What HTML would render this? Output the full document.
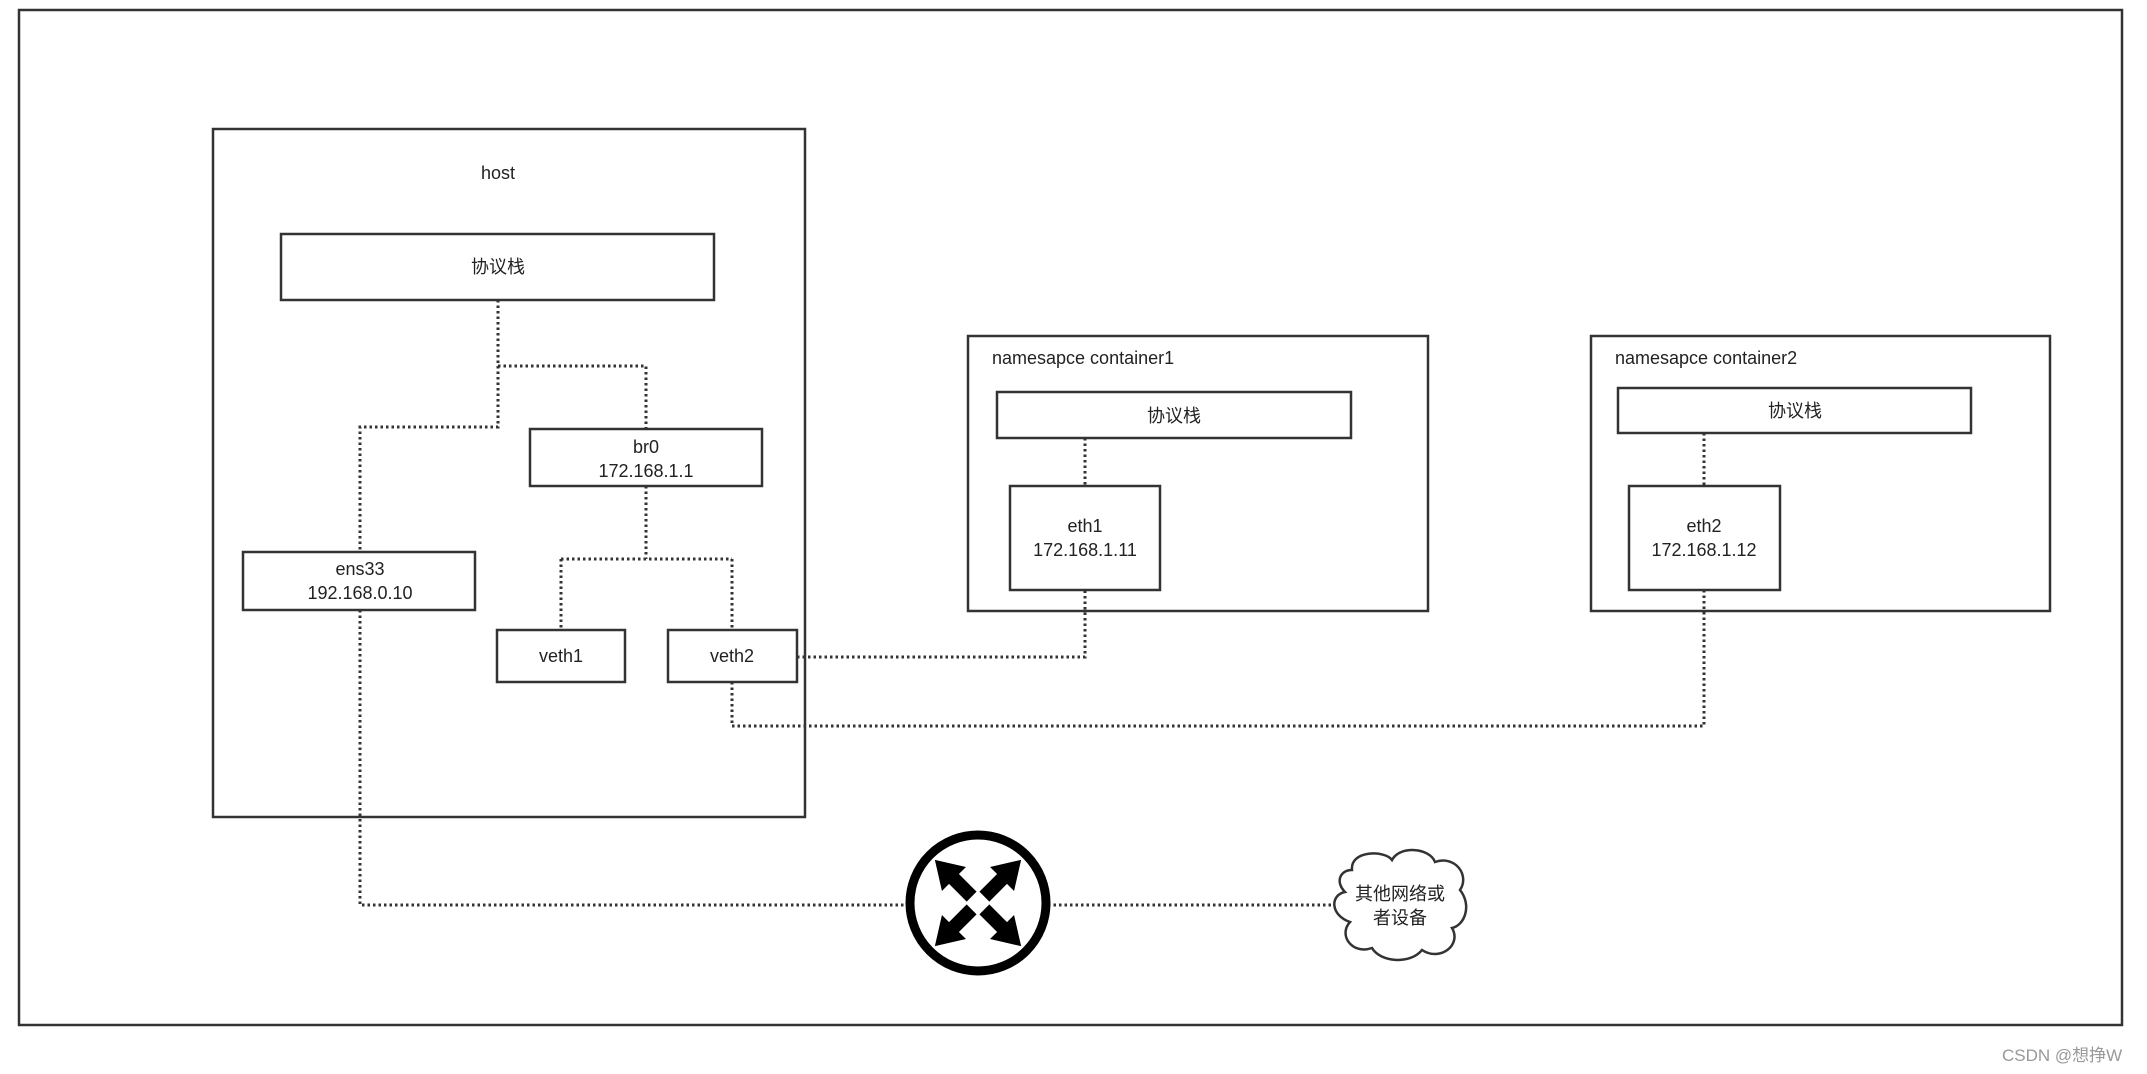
<!DOCTYPE html>
<html><head><meta charset="utf-8"><style>
body{margin:0;background:#fff;}
svg{display:block;}
text{font-family:"Liberation Sans","Noto Sans CJK SC",sans-serif;font-size:18px;fill:#222;}
</style></head><body>
<svg width="2147" height="1074" viewBox="0 0 2147 1074" xmlns="http://www.w3.org/2000/svg">
<g fill="none" stroke="#333" stroke-width="2.5">
<rect x="19" y="10" width="2103" height="1015"/>
<rect x="213" y="129" width="592" height="688"/>
<rect x="281" y="234" width="433" height="66"/>
<rect x="530" y="429" width="232" height="57"/>
<rect x="243" y="552" width="232" height="58"/>
<rect x="497" y="630" width="128" height="52"/>
<rect x="668" y="630" width="129" height="52"/>
<rect x="968" y="336" width="460" height="275"/>
<rect x="997" y="392" width="354" height="46"/>
<rect x="1010" y="486" width="150" height="104"/>
<rect x="1591" y="336" width="459" height="275"/>
<rect x="1618" y="388" width="353" height="45"/>
<rect x="1629" y="486" width="151" height="104"/>
</g>
<g fill="none" stroke="#333" stroke-width="3" stroke-dasharray="2.5 3">
<path d="M498 300 V427 H360 V552"/>
<path d="M498 366 H646 V429"/>
<path d="M646 486 V559"/>
<path d="M561 559 H732"/>
<path d="M561 559 V630"/>
<path d="M732 559 V630"/>
<path d="M797 657 H1085 V590"/>
<path d="M1085 438 V486"/>
<path d="M1704 433 V486"/>
<path d="M732 682 V726 H1704 V590"/>
<path d="M360 610 V905 H908"/>
<path d="M1048 905 H1333"/>
</g>
<circle cx="978" cy="903" r="68" fill="#fff" stroke="#000" stroke-width="9"/>
<g transform="translate(978,903)" fill="#000">
<path d="M-7,-9 L-7,-34 L-17,-34 L0,-61 L17,-34 L7,-34 L7,-9 Z" transform="rotate(-45)"/>
<path d="M-7,-9 L-7,-34 L-17,-34 L0,-61 L17,-34 L7,-34 L7,-9 Z" transform="rotate(45)"/>
<path d="M-7,-9 L-7,-34 L-17,-34 L0,-61 L17,-34 L7,-34 L7,-9 Z" transform="rotate(135)"/>
<path d="M-7,-9 L-7,-34 L-17,-34 L0,-61 L17,-34 L7,-34 L7,-9 Z" transform="rotate(225)"/>
</g>
<path d="M1352 870 C1350 850,1385 850,1392 860 C1400 845,1430 848,1435 862 C1455 855,1470 875,1460 890 C1472 905,1465 925,1452 928 C1462 945,1440 962,1422 950 C1410 965,1380 962,1372 948 C1352 955,1338 935,1350 922 C1330 915,1330 895,1345 892 C1335 882,1340 870,1352 870 Z" fill="#fff" stroke="#333" stroke-width="2.5"/>
<g text-anchor="middle">
<text x="498" y="179">host</text>
<text x="498" y="273">协议栈</text>
<text x="646" y="453">br0</text>
<text x="646" y="477">172.168.1.1</text>
<text x="360" y="575">ens33</text>
<text x="360" y="599">192.168.0.10</text>
<text x="561" y="662">veth1</text>
<text x="732" y="662">veth2</text>
<text x="1174" y="422">协议栈</text>
<text x="1085" y="532">eth1</text>
<text x="1085" y="556">172.168.1.11</text>
<text x="1795" y="417">协议栈</text>
<text x="1704" y="532">eth2</text>
<text x="1704" y="556">172.168.1.12</text>
<text x="1400" y="900">其他网络或</text>
<text x="1400" y="924">者设备</text>
</g>
<text x="992" y="364">namesapce container1</text>
<text x="1615" y="364">namesapce container2</text>
<text x="2002" y="1061" style="fill:#999;font-size:17px">CSDN @想挣W</text>
</svg>
</body></html>
